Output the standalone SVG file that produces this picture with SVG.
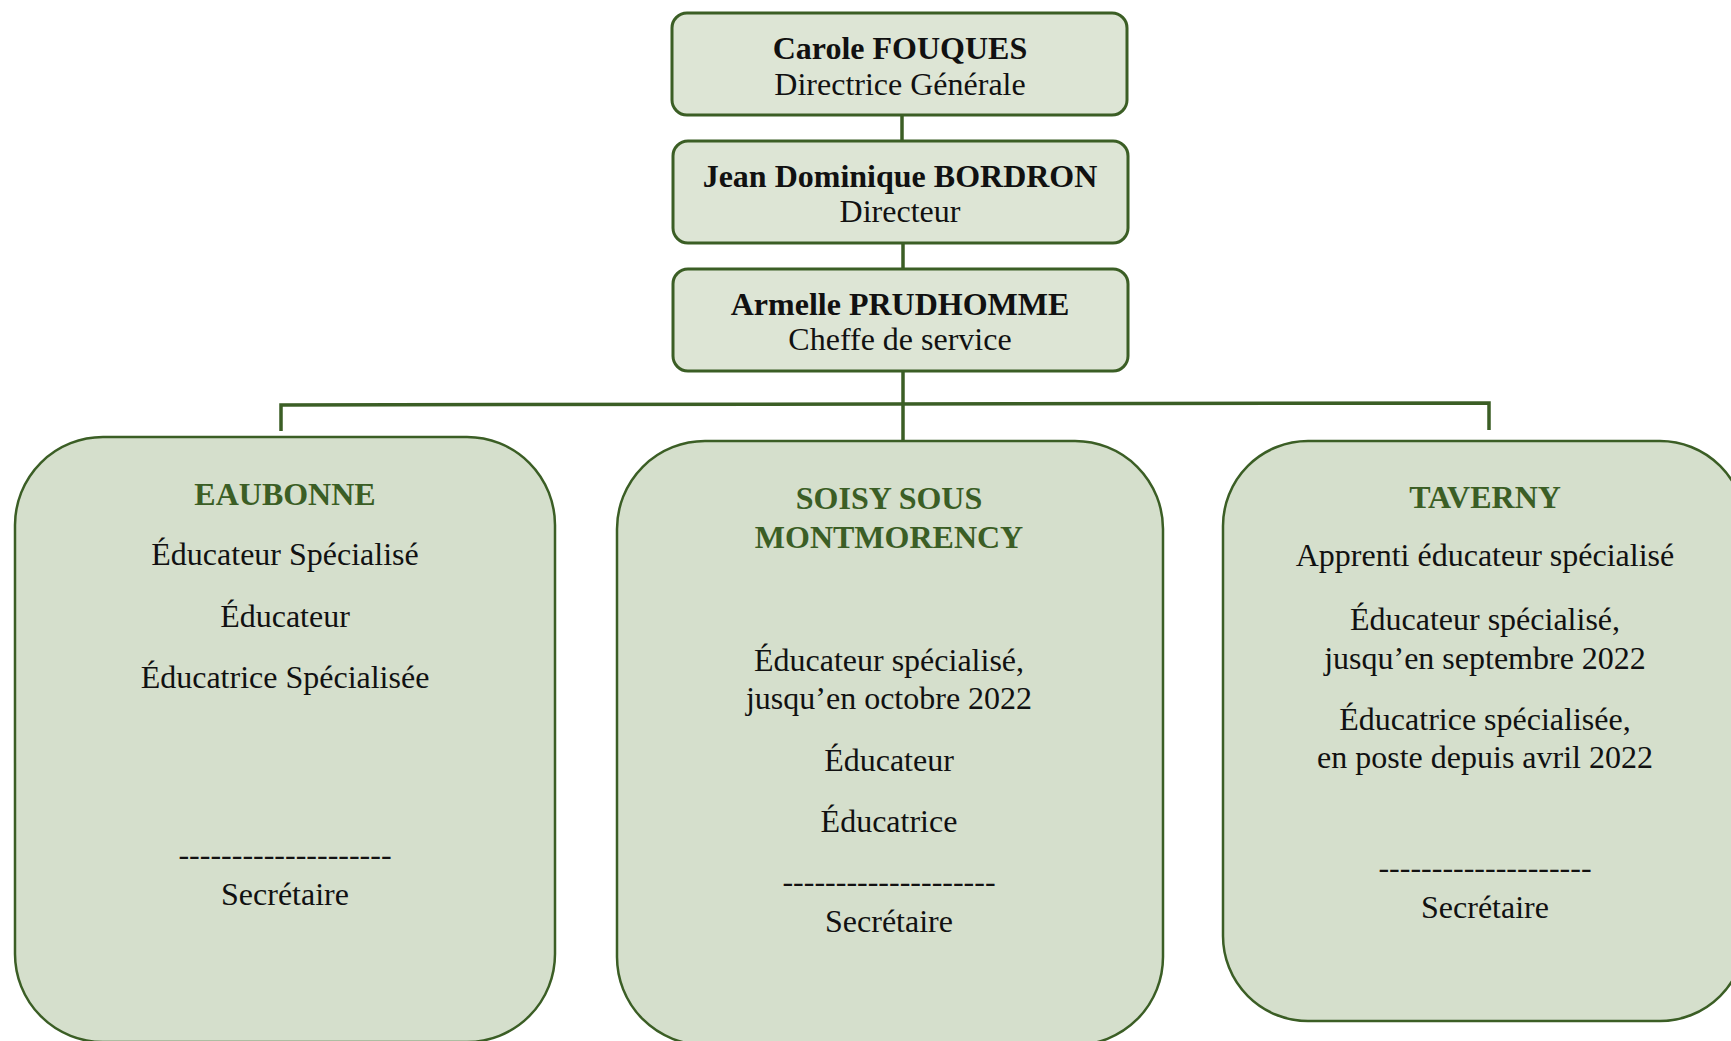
<svg xmlns="http://www.w3.org/2000/svg" width="1731" height="1041" viewBox="0 0 1731 1041">
<style>
  text { font-family: "Liberation Serif", "Times New Roman", serif; font-size: 32px; text-anchor: middle; fill: #111; }
  .b { font-weight: bold; }
  .t { font-weight: bold; fill: #3b5e25; }
  .top { fill: #dde5d5; stroke: #3b5e25; stroke-width: 3; }
  .site { fill: #d5dfcc; stroke: #3b5e25; stroke-width: 2.5; }
  .conn { fill: none; stroke: #3b5e25; stroke-width: 3.5; }
</style>
<rect width="1731" height="1041" fill="#ffffff"/>
<g id="connectors">
  <line class="conn" x1="902" y1="115" x2="902" y2="141"/>
  <line class="conn" x1="903" y1="243" x2="903" y2="269"/>
  <line class="conn" x1="903" y1="371" x2="903" y2="441"/>
  <path class="conn" d="M281 431 L281 405 L1489 403 L1489 430"/>
</g>
<g id="node-fouques">
  <rect class="top" x="672" y="13" width="455" height="102" rx="15"/>
  <text class="b" x="900" y="59">Carole FOUQUES</text>
  <text x="900" y="95">Directrice Générale</text>
</g>
<g id="node-bordron">
  <rect class="top" x="673" y="141" width="455" height="102" rx="15"/>
  <text class="b" x="900" y="187">Jean Dominique BORDRON</text>
  <text x="900" y="222">Directeur</text>
</g>
<g id="node-prudhomme">
  <rect class="top" x="673" y="269" width="455" height="102" rx="15"/>
  <text class="b" x="900" y="315">Armelle PRUDHOMME</text>
  <text x="900" y="350">Cheffe de service</text>
</g>
<g id="node-eaubonne">
  <rect class="site" x="15" y="437" width="540" height="605" rx="88"/>
  <text class="t" x="285" y="505">EAUBONNE</text>
  <text x="285" y="565">Éducateur Spécialisé</text>
  <text x="285" y="627">Éducateur</text>
  <text x="285" y="688">Éducatrice Spécialisée</text>
  <text x="285" y="865">--------------------</text>
  <text x="285" y="905">Secrétaire</text>
</g>
<g id="node-soisy">
  <rect class="site" x="617" y="441" width="546" height="604" rx="88"/>
  <text class="t" x="889" y="509">SOISY SOUS</text>
  <text class="t" x="889" y="548">MONTMORENCY</text>
  <text x="889" y="671">Éducateur spécialisé,</text>
  <text x="889" y="709">jusqu’en octobre 2022</text>
  <text x="889" y="771">Éducateur</text>
  <text x="889" y="832">Éducatrice</text>
  <text x="889" y="892">--------------------</text>
  <text x="889" y="932">Secrétaire</text>
</g>
<g id="node-taverny">
  <rect class="site" x="1223" y="441" width="522" height="580" rx="85"/>
  <text class="t" x="1485" y="508">TAVERNY</text>
  <text x="1485" y="566">Apprenti éducateur spécialisé</text>
  <text x="1485" y="630">Éducateur spécialisé,</text>
  <text x="1485" y="669">jusqu’en septembre 2022</text>
  <text x="1485" y="730">Éducatrice spécialisée,</text>
  <text x="1485" y="768">en poste depuis avril 2022</text>
  <text x="1485" y="878">--------------------</text>
  <text x="1485" y="918">Secrétaire</text>
</g>
</svg>
